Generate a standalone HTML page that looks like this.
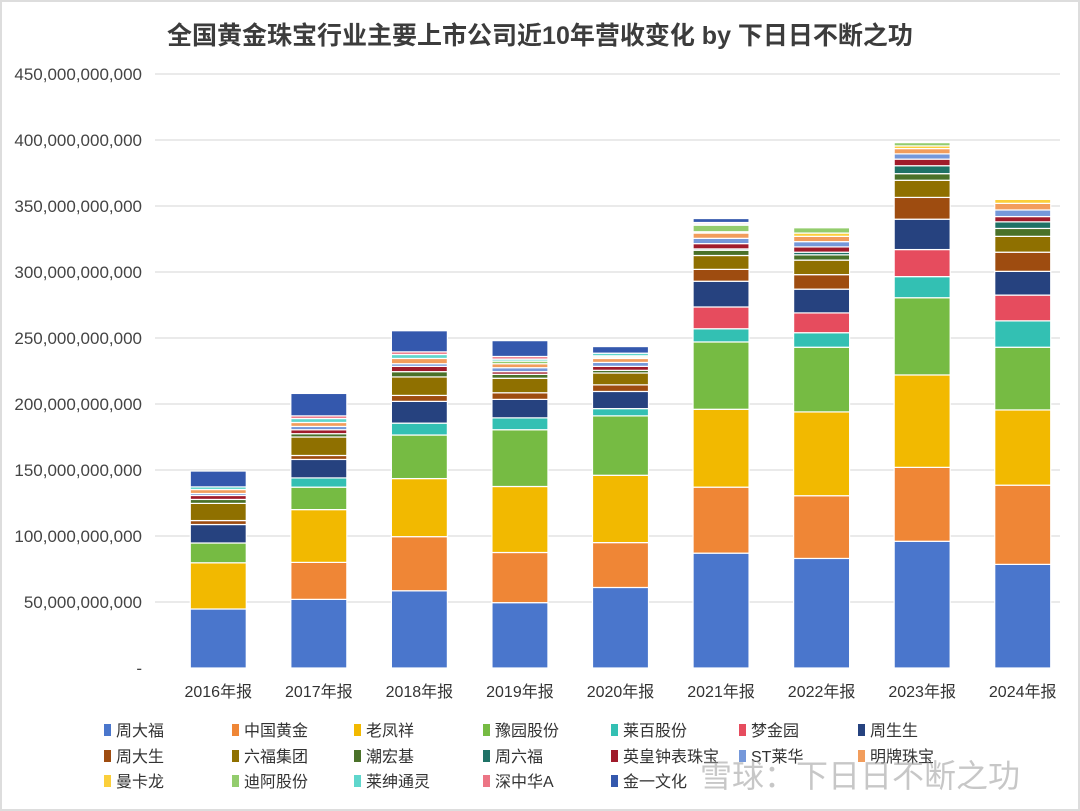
<!DOCTYPE html>
<html><head><meta charset="utf-8"><style>
body{margin:0;background:#fff;}
#wrap{position:relative;width:1080px;height:811px;overflow:hidden;box-sizing:border-box;border:2px solid #ddd;background:#fff;}
text{font-family:"Liberation Sans","Noto Sans CJK SC",sans-serif;}
</style></head><body>
<div id="wrap">
<svg id="chart" width="1080" height="811" style="position:absolute;left:-2px;top:-2px"></svg>
</div>
<script>
const categories=["2016年报","2017年报","2018年报","2019年报","2020年报","2021年报","2022年报","2023年报","2024年报"];
const seriesNames=["周大福","中国黄金","老凤祥","豫园股份","莱百股份","梦金园","周生生","周大生","六福集团","潮宏基","周六福","英皇钟表珠宝","ST莱华","明牌珠宝","曼卡龙","迪阿股份","莱绅通灵","深中华A","金一文化"];
const seriesColors=["#4a76cc","#ef8636","#f2b900","#76bb43","#33c0b3","#e64c5e","#26427f","#9e4c10","#8f7000","#4a7129","#1f7266","#a01b2b","#7598da","#f29d5c","#fbcf3b","#93cc6d","#5fd6cc","#ec7585","#3458ad"];
// values in billions
const v周大福=[44.7,52,58.5,49.5,61,87,83,96,78.5];
const v中国黄金=[0,28,41,38,34,50,47.5,56,60];
const v老凤祥=[35,40,44,50,51,59,63.5,70,57];
const v豫园=[15,17,33,43,45,51,49,58.5,47.5];
const v莱百=[0,7,9,9,5.5,10,11,16,20];
const v梦金园=[0,0,0,0,0,16.5,15,20.5,19.5];
const v周生生=[14,14,16.5,14,13,19.5,18,23,18];
const v周大生=[3,3,4.5,5,5,9,11,16.5,14.5];
const v六福=[13,14,14,11,9,10.5,11,13,12];
const v潮宏基=[3,2.5,4,3,2,4,4,5,6];
const v周六福=[0,0,0,0,0,1,2,6,5];
const v英皇=[3,3,4,2,3,4,4,5,4];
const vST莱华=[1.5,2.5,2,3,3,4,4,4,5];
const v明牌=[3,3,4,3,3,4,4,4,5];
const v曼卡龙=[0,0,0,0,1,1,2.5,2,3];
const v迪阿=[0,0,0,2,1,5,4,2.5,0];
const v莱绅=[2,3,3,1.5,2,1,0,0,0];
const v深中华=[0,2,2,2,0,1,0,0,0];
const v金一=[12,17,16,12,5,3,0,0,0];
const seriesValues=[v周大福,v中国黄金,v老凤祥,v豫园,v莱百,v梦金园,v周生生,v周大生,v六福,v潮宏基,v周六福,v英皇,vST莱华,v明牌,v曼卡龙,v迪阿,v莱绅,v深中华,v金一];
const yTicks=[0,50,100,150,200,250,300,350,400,450];
const yTickLabels=["-","50,000,000,000","100,000,000,000","150,000,000,000","200,000,000,000","250,000,000,000","300,000,000,000","350,000,000,000","400,000,000,000","450,000,000,000"];

const svg=document.getElementById('chart');
const NS='http://www.w3.org/2000/svg';
const plotL=155,plotR=1060,y0=668,yTop=74,yMax=450;
const y=v=>y0-(v/yMax)*(y0-yTop);
const band=(plotR-plotL)/categories.length;
const x=i=>plotL+band*(i+0.5)+13;
function mk(tag,attrs){const e=document.createElementNS(NS,tag);for(const k in attrs)e.setAttribute(k,attrs[k]);svg.appendChild(e);return e;}

const title=mk('text',{x:540,y:44,'text-anchor':'middle','font-size':25,'font-weight':'bold',fill:'#3c3c3c'});
title.textContent='全国黄金珠宝行业主要上市公司近10年营收变化 by 下日日不断之功';



yTicks.forEach((t,i)=>{
  if(i>0){const g=mk('line',{x1:plotL,x2:plotR,y1:y(t),y2:y(t),stroke:'#e3e3e3','stroke-width':1.5});
  
  }
  const l=mk('text',{x:142,y:y(t)+6,'text-anchor':'end','font-size':17,fill:'#444'});
  l.textContent=yTickLabels[i];
  
  
});

const bw=56;
categories.forEach((c,i)=>{
  let acc=0;
  seriesValues.forEach((vals,s)=>{
    const v=vals[i]; if(!v) return;
    const r=mk('rect',{x:x(i)-bw/2,y:y(acc+v),width:bw,height:y(acc)-y(acc+v),fill:seriesColors[s],stroke:'#fff','stroke-width':1.2});
    
    
    acc+=v;
  });
  const t=mk('text',{x:x(i),y:697,'text-anchor':'middle','font-size':16,fill:'#333'});
  t.textContent=c;
  
  
});

const legX=[108,236,358,487,615,743,862];
const legY=[730,756,781];
seriesNames.forEach((n,s)=>{
  const cx=legX[s%7],cy=legY[Math.floor(s/7)];
  const m=mk('rect',{x:cx-4,y:cy-6,width:7,height:12,fill:seriesColors[s]});
  
  
  const t=mk('text',{x:cx+8,y:cy+6,'font-size':16,fill:'#333'});
  t.textContent=n;
  
  
});
const wm=mk('text',{x:700,y:787,'font-size':32,fill:'#999','fill-opacity':0.55});
wm.textContent='雪球：下日日不断之功';


</script>
</body></html>
